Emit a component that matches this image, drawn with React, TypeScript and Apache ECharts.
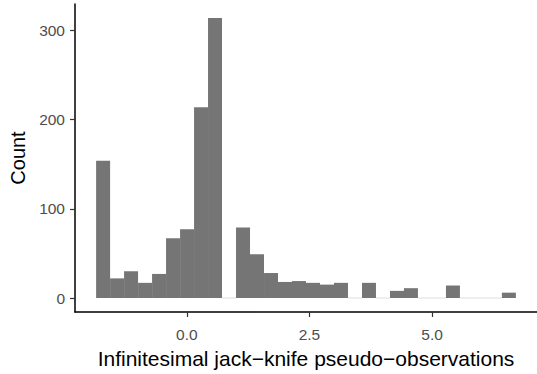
import React, { useEffect, useRef } from "react";
import * as echarts from "echarts";

// Histogram bin centers (x) and counts
const binCenters = [
  -1.707, -1.422, -1.137, -0.851, -0.566, -0.281, 0.005, 0.29, 0.575, 0.861,
  1.146, 1.431, 1.717, 2.002, 2.287, 2.573, 2.858, 3.143, 3.429, 3.714,
  3.999, 4.285, 4.57, 4.855, 5.141, 5.426, 5.711, 5.997, 6.282, 6.567,
];
const counts = [
  154, 22, 30, 17, 27, 67, 77, 214, 314, 0,
  79, 49, 28, 18, 19, 17, 15, 17, 0, 17,
  0, 8, 11, 0, 0, 14, 0, 0, 0, 6,
];
const binWidth = 0.2853;
const xTicks = [0, 2.5, 5];
const yTicks = [0, 100, 200, 300];

const xTitle = "Infinitesimal jack\u2212knife pseudo\u2212observations";
const yTitle = "Count";

const FONT = "Liberation Sans, Arial, Helvetica, sans-serif";

export default function App() {
  const ref = useRef<HTMLDivElement>(null);
  useEffect(() => {
    if (!ref.current) return;
    const chart = echarts.init(ref.current, undefined, { renderer: "svg" });
    const data = binCenters.map((c, i) => [c, counts[i]]);
    chart.setOption({
      animation: false,
      grid: { left: 75, right: 0, top: 4, bottom: 59, containLabel: false },
      xAxis: {
        type: "value",
        min: -2.28,
        max: 7.14,
        splitLine: { show: false },
        axisLine: { show: true, onZero: false, lineStyle: { color: "#000", width: 1.5 } },
        axisTick: { show: true, length: 5, customValues: xTicks, lineStyle: { color: "#333", width: 1.2 } },
        axisLabel: {
          customValues: xTicks,
          formatter: (v: number) => v.toFixed(1),
          color: "#4d4d4d",
          fontSize: 15.5,
          fontFamily: FONT,
          margin: 14,
        },
        name: xTitle,
        nameLocation: "middle",
        nameGap: 36,
        nameTextStyle: { color: "#000", fontSize: 21, fontFamily: FONT },
      },
      yAxis: {
        type: "value",
        min: -15.7,
        max: 329.7,
        splitLine: { show: false },
        axisLine: { show: true, onZero: false, lineStyle: { color: "#000", width: 1.5 } },
        axisTick: { show: true, length: 5, customValues: yTicks, lineStyle: { color: "#333", width: 1.2 } },
        axisLabel: {
          customValues: yTicks,
          color: "#4d4d4d",
          fontSize: 15.5,
          fontFamily: FONT,
          margin: 10,
        },
        name: yTitle,
        nameLocation: "middle",
        nameGap: 46,
        nameTextStyle: { color: "#000", fontSize: 20, fontFamily: FONT },
      },
      series: [
        {
          type: "custom",
          data,
          renderItem: (params: any, api: any) => {
            const x = api.value(0);
            const v = api.value(1);
            const p0 = api.coord([x - binWidth / 2, v]);
            const p1 = api.coord([x + binWidth / 2, 0]);
            if (v === 0) {
              return {
                type: "rect",
                shape: { x: p0[0], y: p1[1] - 0.5, width: p1[0] - p0[0], height: 1 },
                style: { fill: "#dcdcdc" },
              };
            }
            return {
              type: "rect",
              shape: { x: p0[0], y: p0[1], width: p1[0] - p0[0], height: p1[1] - p0[1] },
              style: { fill: "#757575" },
            };
          },
        },
      ],
    });
    return () => chart.dispose();
  }, []);
  return <div ref={ref} style={{ width: 537, height: 374, position: "absolute", left: 0, top: 0 }} />;
}
